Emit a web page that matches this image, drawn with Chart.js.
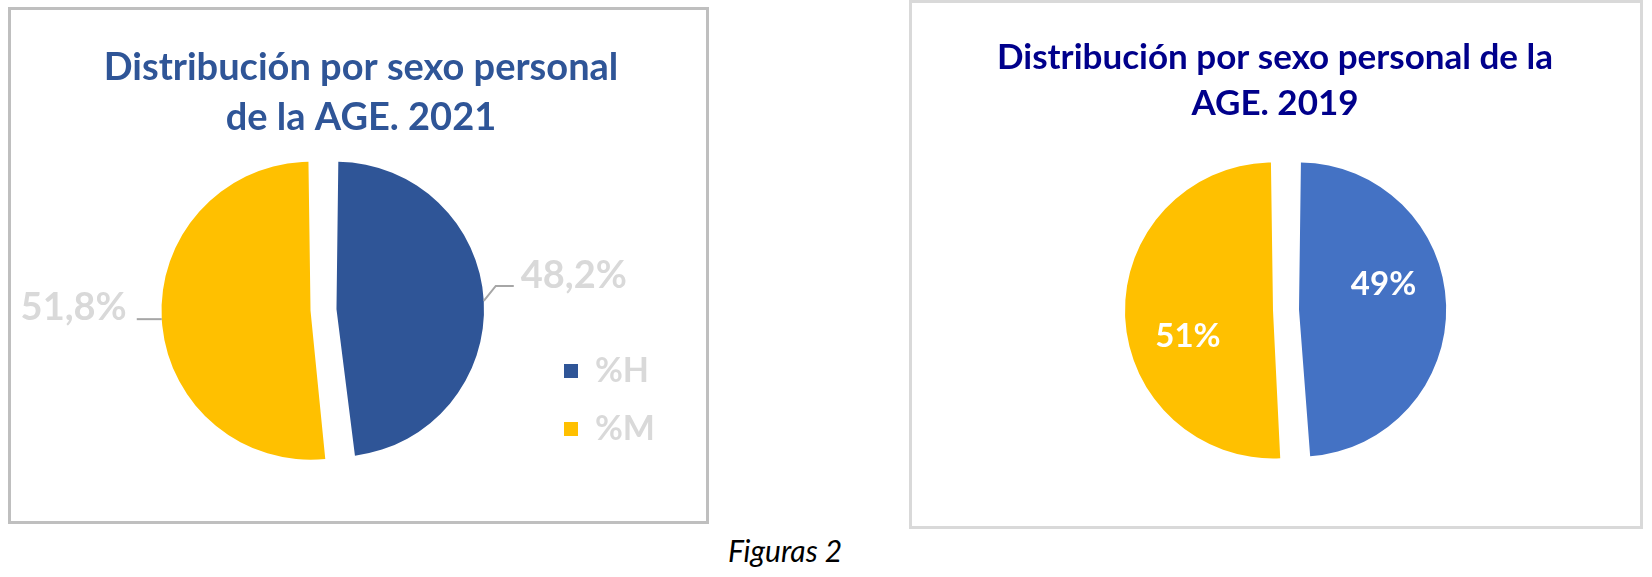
<!DOCTYPE html>
<html lang="es">
<head>
<meta charset="utf-8">
<title>Distribución por sexo personal de la AGE</title>
<script src="https://cdn.jsdelivr.net/npm/chart.js@4.4.1/dist/chart.umd.min.js"></script>
<style>
  body { margin: 0; width: 1652px; height: 577px; background: #fff; position: relative; overflow: hidden; }
  .box { position: absolute; box-sizing: border-box; background: #fff; }
  #box2021 { left: 8px; top: 7px; width: 701px; height: 517px; border: 3px solid #bfbfbf; }
  #box2019 { left: 909px; top: 0; width: 734px; height: 529px; border: 3px solid #d9d9d9; }
  .box canvas { display: block; }
  #caption { position: absolute; left: 700px; top: 535px; width: 170px; text-align: center;
             font: italic 30px/30px Lato, sans-serif; color: #000; }
</style>
</head>
<body>
<div class="box" id="box2021"><canvas id="chart2021" width="695" height="511"></canvas></div>
<div class="box" id="box2019"><canvas id="chart2019" width="728" height="523"></canvas></div>
<div id="caption">Figuras 2</div>
<script>
const sexLabels = ['%H', '%M'];
const values2021 = [48.2, 51.8];
const values2019 = [49, 51];
const colors2021 = ['#2f5597', '#ffc000'];
const colors2019 = ['#4472c4', '#ffc000'];
const title2021 = ['Distribución por sexo personal', 'de la AGE. 2021'];
const title2019 = ['Distribución por sexo personal de la', 'AGE. 2019'];

// percentage labels on the slices (outside with leader line, or inside)
const sliceLabels = {
  id: 'sliceLabels',
  afterDatasetsDraw(chart, args, opts) {
    const ctx = chart.ctx;
    const meta = chart.getDatasetMeta(0);
    const values = chart.data.datasets[0].data;
    ctx.save();
    ctx.font = 'bold ' + opts.size + 'px Lato';
    meta.data.forEach((arc, i) => {
      const p = arc.getProps(['x', 'y', 'startAngle', 'endAngle', 'outerRadius', 'circumference'], true);
      const shift = (arc.options.offset || 0) / 4;
      const edge = p.outerRadius + shift * (1 - Math.sin(Math.min(Math.PI, p.circumference)));
      const mid = (p.startAngle + p.endAngle) / 2;
      const cx = p.x + Math.cos(mid) * shift;
      const cy = p.y + Math.sin(mid) * shift;
      const text = values[i].toFixed(opts.decimals).replace('.', ',') + '%';
      ctx.fillStyle = opts.color;
      if (opts.outside) {
        const ax = cx + Math.cos(mid) * edge;
        const ay = cy + Math.sin(mid) * edge;
        let tx, ty;
        ctx.strokeStyle = opts.lineColor;
        ctx.lineWidth = 2;
        ctx.beginPath();
        ctx.moveTo(ax, ay);
        if (Math.cos(mid) >= 0) {
          ctx.lineTo(ax + 12, ay - 15);
          ctx.lineTo(ax + 30, ay - 15);
          tx = ax + 37; ty = ay - 13;
          ctx.textAlign = 'left';
        } else {
          ctx.lineTo(ax - 25, ay);
          tx = ax - 35; ty = ay + 1;
          ctx.textAlign = 'right';
        }
        ctx.stroke();
        ctx.textBaseline = 'alphabetic';
        ctx.fillText(text, tx, ty);
      } else {
        const a = mid + opts.angleShift * Math.PI / 180;
        const r = edge * 0.6;
        ctx.textAlign = 'center';
        ctx.textBaseline = 'middle';
        ctx.fillText(text, cx + Math.cos(a) * r, cy + Math.sin(a) * r);
      }
    });
    ctx.restore();
  }
};

// the title is centred on the whole frame, not on the plot + legend block
const titleShift = {
  id: 'titleShift',
  afterLayout(chart, args, opts) {
    chart.titleBlock.left += opts.dx;
    chart.titleBlock.right += opts.dx;
  }
};

new Chart(document.getElementById('chart2021'), {
  type: 'pie',
  data: {
    labels: sexLabels,
    datasets: [{ data: values2021, backgroundColor: colors2021, borderWidth: 0, offset: 52, radius: 136 }]
  },
  options: {
    responsive: false,
    animation: false,
    layout: { padding: { left: 96, right: 41, top: 0, bottom: 51 } },
    plugins: {
      title: {
        display: true, text: title2021, color: '#2f5597',
        font: { family: 'Lato', size: 38, weight: 'bold', lineHeight: 50 / 38 },
        padding: { top: 33, bottom: 7 }
      },
      titleShift: { dx: -25 },
      legend: {
        position: 'right', align: 'end',
        labels: { boxWidth: 14, boxHeight: 14, padding: 24, color: '#d9d9d9',
                  font: { family: 'Lato', size: 34, weight: 'bold' } }
      },
      tooltip: { enabled: false },
      sliceLabels: { outside: true, size: 38, decimals: 1, color: '#d9d9d9', lineColor: '#a6a6a6' }
    }
  },
  plugins: [sliceLabels, titleShift]
});

new Chart(document.getElementById('chart2019'), {
  type: 'pie',
  data: {
    labels: sexLabels,
    datasets: [{ data: values2019, backgroundColor: colors2019, borderWidth: 0, offset: 52, radius: 135 }]
  },
  options: {
    responsive: false,
    animation: false,
    layout: { padding: { left: 20, right: 0, top: 0, bottom: 40 } },
    plugins: {
      title: {
        display: true, text: title2019, color: '#00008b',
        font: { family: 'Lato', size: 35, weight: 'bold', lineHeight: 46 / 35 },
        padding: { top: 32, bottom: 7 }
      },
      titleShift: { dx: -11 },
      legend: { display: false },
      tooltip: { enabled: false },
      sliceLabels: { outside: false, size: 33, decimals: 0, color: '#ffffff', angleShift: -15 }
    }
  },
  plugins: [sliceLabels, titleShift]
});
</script>
</body>
</html>
